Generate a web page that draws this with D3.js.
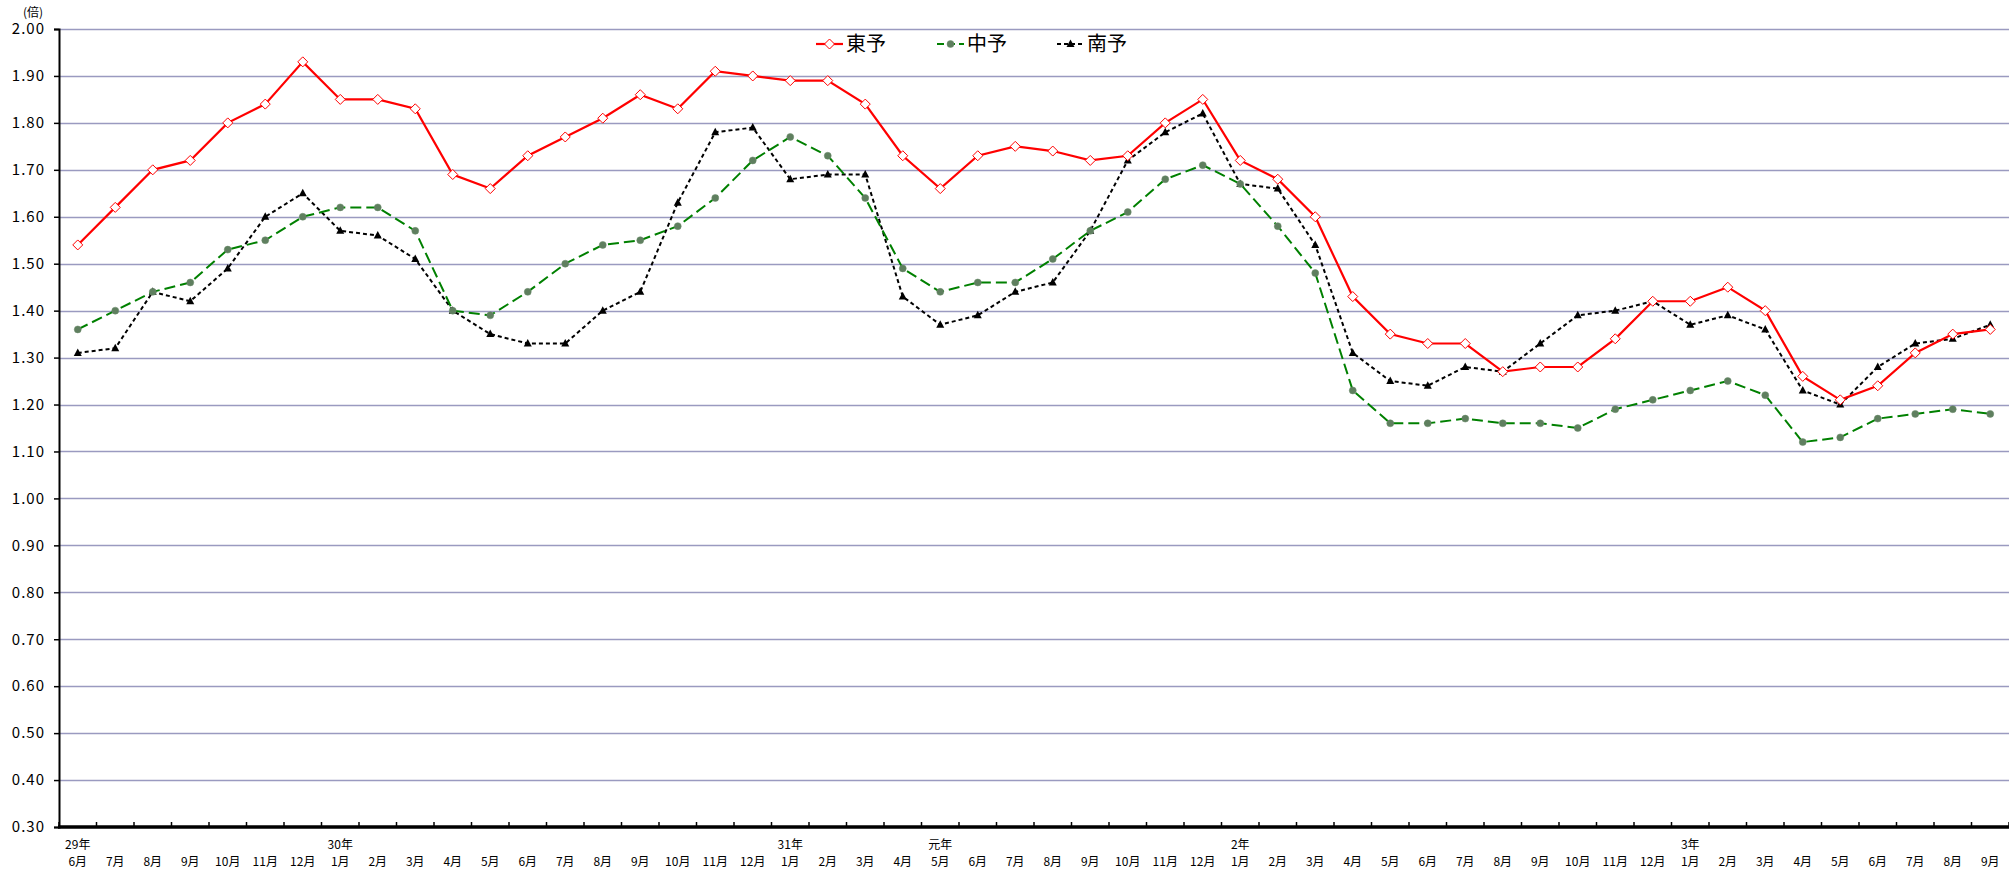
<!DOCTYPE html>
<html>
<head>
<meta charset="utf-8">
<script src="https://cdn.jsdelivr.net/npm/d3@7"></script>
<style>
  html, body { margin: 0; padding: 0; background: #fff; }
  svg { display: block; font-family: "Noto Sans CJK JP", "Noto Sans", sans-serif; }
</style>
</head>
<body>
<svg id="chart" width="2009" height="872"></svg>
<script>
const months = [
  '6月', '7月', '8月', '9月', '10月', '11月', '12月',
  '1月', '2月', '3月', '4月', '5月', '6月', '7月', '8月', '9月', '10月', '11月', '12月',
  '1月', '2月', '3月', '4月',
  '5月', '6月', '7月', '8月', '9月', '10月', '11月', '12月',
  '1月', '2月', '3月', '4月', '5月', '6月', '7月', '8月', '9月', '10月', '11月', '12月',
  '1月', '2月', '3月', '4月', '5月', '6月', '7月', '8月', '9月'
];

// year label shown above the first month of each year (index into months)
const yearLabels = [
  { index: 0, label: '29年' },
  { index: 7, label: '30年' },
  { index: 19, label: '31年' },
  { index: 23, label: '元年' },
  { index: 31, label: '2年' },
  { index: 43, label: '3年' }
];

const toyo = [
  1.54, 1.62, 1.70, 1.72, 1.80, 1.84, 1.93,
  1.85, 1.85, 1.83, 1.69, 1.66, 1.73, 1.77, 1.81, 1.86, 1.83, 1.91, 1.90,
  1.89, 1.89, 1.84, 1.73,
  1.66, 1.73, 1.75, 1.74, 1.72, 1.73, 1.80, 1.85,
  1.72, 1.68, 1.60, 1.43, 1.35, 1.33, 1.33, 1.27, 1.28, 1.28, 1.34, 1.42,
  1.42, 1.45, 1.40, 1.26, 1.21, 1.24, 1.31, 1.35, 1.36
];

const chuyo = [
  1.36, 1.40, 1.44, 1.46, 1.53, 1.55, 1.60,
  1.62, 1.62, 1.57, 1.40, 1.39, 1.44, 1.50, 1.54, 1.55, 1.58, 1.64, 1.72,
  1.77, 1.73, 1.64, 1.49,
  1.44, 1.46, 1.46, 1.51, 1.57, 1.61, 1.68, 1.71,
  1.67, 1.58, 1.48, 1.23, 1.16, 1.16, 1.17, 1.16, 1.16, 1.15, 1.19, 1.21,
  1.23, 1.25, 1.22, 1.12, 1.13, 1.17, 1.18, 1.19, 1.18
];

const nanyo = [
  1.31, 1.32, 1.44, 1.42, 1.49, 1.60, 1.65,
  1.57, 1.56, 1.51, 1.40, 1.35, 1.33, 1.33, 1.40, 1.44, 1.63, 1.78, 1.79,
  1.68, 1.69, 1.69, 1.43,
  1.37, 1.39, 1.44, 1.46, 1.57, 1.72, 1.78, 1.82,
  1.67, 1.66, 1.54, 1.31, 1.25, 1.24, 1.28, 1.27, 1.33, 1.39, 1.40, 1.42,
  1.37, 1.39, 1.36, 1.23, 1.20, 1.28, 1.33, 1.34, 1.37
];

const seriesNames = ['東予', '中予', '南予'];
const yTicks = d3.range(0.3, 2.001, 0.1);

const width = 2009;
const height = 872;
const padding = { top: 29, right: 0, bottom: 45, left: 59 };

const svg = d3.select('#chart');

const x = d3.scaleBand()
  .domain(d3.range(months.length))
  .range([padding.left, width - padding.right]);

const y = d3.scaleLinear()
  .domain([0.3, 2.0])
  .range([height - padding.bottom, padding.top]);

// styles per series
const styles = [
  { values: toyo, color: '#ff0000', width: 2.2, dash: null, marker: 'diamond' },
  { values: chuyo, color: '#008000', width: 2, dash: '11,5', marker: 'circle' },
  { values: nanyo, color: '#000000', width: 2, dash: '4,3', marker: 'triangle' }
];

// Gridlines
svg.append('g')
  .attr('class', 'grid')
  .selectAll('line')
  .data(yTicks.slice(1))
  .join('line')
  .attr('x1', padding.left)
  .attr('x2', width - padding.right)
  .attr('y1', d => Math.round(y(d)) + 0.5)
  .attr('y2', d => Math.round(y(d)) + 0.5)
  .attr('stroke', '#9a9ac0')
  .attr('stroke-width', 1.5);

// Y axis
const yAxis = svg.append('g')
  .attr('class', 'axis y')
  .attr('transform', `translate(${padding.left}, 0)`)
  .call(d3.axisLeft(y).tickValues(yTicks).tickSize(5).tickPadding(9).tickFormat(d3.format('.2f')));

yAxis.select('.domain').attr('stroke', '#000').attr('stroke-width', 2);
yAxis.selectAll('.tick line').attr('stroke', '#000').attr('stroke-width', 1.5);
yAxis.selectAll('.tick text')
  .attr('fill', '#000')
  .attr('font-size', 15)
  .attr('letter-spacing', 1)
  .attr('font-family', '"Noto Sans CJK JP", sans-serif');

// X axis
const xAxis = svg.append('g')
  .attr('class', 'axis x')
  .attr('transform', `translate(0, ${height - padding.bottom})`);

xAxis.append('line')
  .attr('x1', padding.left - 1)
  .attr('x2', width - padding.right)
  .attr('stroke', '#000')
  .attr('stroke-width', 3.5);

xAxis.selectAll('line.tick')
  .data(d3.range(months.length + 1))
  .join('line')
  .attr('class', 'tick')
  .attr('x1', d => x.step() * d + padding.left)
  .attr('x2', d => x.step() * d + padding.left)
  .attr('y1', 0)
  .attr('y2', -5)
  .attr('stroke', '#000')
  .attr('stroke-width', 1.5);

xAxis.selectAll('text.month')
  .data(months)
  .join('text')
  .attr('class', 'month')
  .attr('x', (d, i) => x(i) + x.bandwidth() / 2)
  .attr('y', 39)
  .attr('text-anchor', 'middle')
  .attr('font-size', 12)
  .text(d => d);

xAxis.selectAll('text.year')
  .data(yearLabels)
  .join('text')
  .attr('class', 'year')
  .attr('x', d => x(d.index) + x.bandwidth() / 2)
  .attr('y', 22)
  .attr('text-anchor', 'middle')
  .attr('font-size', 12)
  .text(d => d.label);

// unit label
svg.append('text')
  .attr('x', 23)
  .attr('y', 17)
  .attr('font-size', 12)
  .text('(倍)');

function drawMarker(sel, type, color) {
  if (type === 'diamond') {
    sel.append('path')
      .attr('d', 'M0,-5L5,0L0,5L-5,0Z')
      .attr('fill', '#fff')
      .attr('stroke', color)
      .attr('stroke-width', 1);
  } else if (type === 'circle') {
    sel.append('circle')
      .attr('r', 3.5)
      .attr('fill', '#5f7f5f')
      .attr('stroke', '#6a8a6a')
      .attr('stroke-width', 0.5);
  } else {
    sel.append('path')
      .attr('d', 'M0,-4.5L4,3L-4,3Z')
      .attr('fill', '#000');
  }
}

const line = d3.line()
  .x((d, i) => x(i) + x.bandwidth() / 2)
  .y(d => y(d));

// Series
styles.slice().reverse().forEach(s => {
  const g = svg.append('g').attr('class', 'series');
  g.append('path')
    .datum(s.values)
    .attr('d', line)
    .attr('fill', 'none')
    .attr('stroke', s.color)
    .attr('stroke-width', s.width)
    .attr('stroke-dasharray', s.dash);

  g.selectAll('g.marker')
    .data(s.values)
    .join('g')
    .attr('class', 'marker')
    .attr('transform', (d, i) => `translate(${x(i) + x.bandwidth() / 2}, ${y(d)})`)
    .each(function() { drawMarker(d3.select(this), s.marker, s.color); });
});

// Legend
const legendX = [816, 937, 1057];
const legend = svg.append('g').attr('class', 'legend');
styles.forEach((s, i) => {
  const item = legend.append('g').attr('transform', `translate(${legendX[i]}, 44)`);
  item.append('line')
    .attr('x1', 0)
    .attr('x2', 27)
    .attr('stroke', s.color)
    .attr('stroke-width', s.width)
    .attr('stroke-dasharray', s.dash ? (i === 1 ? '7,4' : '4,3') : null);
  drawMarker(item.append('g').attr('transform', 'translate(13.5, 0)'), s.marker, s.color);
  item.append('text')
    .attr('x', 30)
    .attr('y', 7)
    .attr('font-size', 20)
    .text(seriesNames[i]);
});
</script>
</body>
</html>
